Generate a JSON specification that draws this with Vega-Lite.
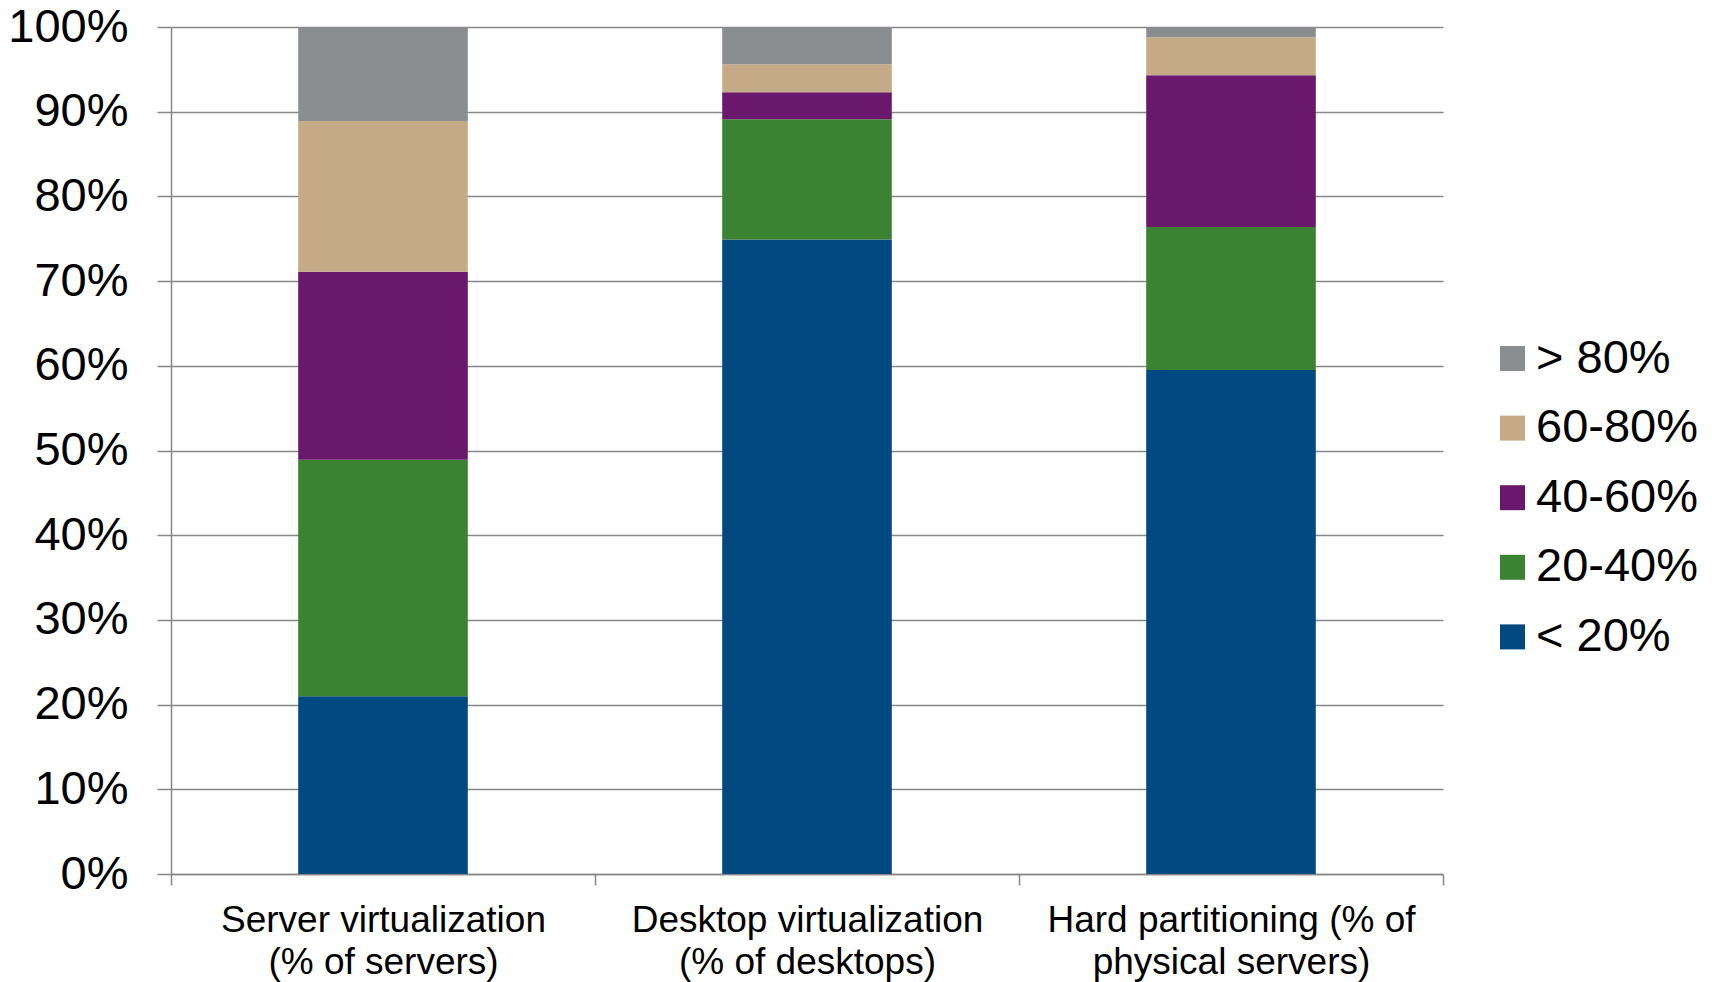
{
  "$schema": "https://vega.github.io/schema/vega-lite/v6.json",
  "width": 1272,
  "height": 847,
  "autosize": "none",
  "padding": {"left": 171, "top": 27, "right": 272, "bottom": 108},
  "background": "white",
  "config": {"view": {"stroke": null}, "font": "Liberation Sans"},
  "data": {
    "values": [
      {"category": "Server virtualization (% of servers)", "range": "< 20%", "rank": 1, "pct": 21.0},
      {"category": "Server virtualization (% of servers)", "range": "20-40%", "rank": 2, "pct": 27.9},
      {"category": "Server virtualization (% of servers)", "range": "40-60%", "rank": 3, "pct": 22.2},
      {"category": "Server virtualization (% of servers)", "range": "60-80%", "rank": 4, "pct": 17.8},
      {"category": "Server virtualization (% of servers)", "range": "> 80%", "rank": 5, "pct": 11.1},
      {"category": "Desktop virtualization (% of desktops)", "range": "< 20%", "rank": 1, "pct": 74.9},
      {"category": "Desktop virtualization (% of desktops)", "range": "20-40%", "rank": 2, "pct": 14.2},
      {"category": "Desktop virtualization (% of desktops)", "range": "40-60%", "rank": 3, "pct": 3.2},
      {"category": "Desktop virtualization (% of desktops)", "range": "60-80%", "rank": 4, "pct": 3.3},
      {"category": "Desktop virtualization (% of desktops)", "range": "> 80%", "rank": 5, "pct": 4.4},
      {"category": "Hard partitioning (% of physical servers)", "range": "< 20%", "rank": 1, "pct": 59.5},
      {"category": "Hard partitioning (% of physical servers)", "range": "20-40%", "rank": 2, "pct": 16.9},
      {"category": "Hard partitioning (% of physical servers)", "range": "40-60%", "rank": 3, "pct": 17.9},
      {"category": "Hard partitioning (% of physical servers)", "range": "60-80%", "rank": 4, "pct": 4.5},
      {"category": "Hard partitioning (% of physical servers)", "range": "> 80%", "rank": 5, "pct": 1.2}
    ]
  },
  "mark": {"type": "bar", "width": {"band": 0.4}},
  "encoding": {
    "x": {
      "field": "category",
      "type": "nominal",
      "sort": ["Server virtualization (% of servers)", "Desktop virtualization (% of desktops)", "Hard partitioning (% of physical servers)"],
      "scale": {"paddingInner": 0, "paddingOuter": 0},
      "axis": {
        "title": null,
        "labelAngle": 0,
        "tickBand": "extent",
        "ticks": true,
        "tickSize": 11,
        "tickColor": "#878787",
        "tickWidth": 1.5,
        "domainColor": "#878787",
        "domainWidth": 1.5,
        "labelFont": "Liberation Sans",
        "labelFontSize": 37,
        "labelColor": "black",
        "labelPadding": 17,
        "labelLineHeight": 42,
        "labelLimit": 600,
        "grid": false,
        "labelExpr": "datum.label == 'Server virtualization (% of servers)' ? ['Server virtualization', '(% of servers)'] : datum.label == 'Desktop virtualization (% of desktops)' ? ['Desktop virtualization', '(% of desktops)'] : datum.label == 'Hard partitioning (% of physical servers)' ? ['Hard partitioning (% of', 'physical servers)'] : ''"
      }
    },
    "y": {
      "field": "pct",
      "type": "quantitative",
      "stack": "zero",
      "scale": {"domain": [0, 100], "nice": false},
      "axis": {
        "title": null,
        "values": [0, 10, 20, 30, 40, 50, 60, 70, 80, 90, 100],
        "labelExpr": "datum.value + '%'",
        "labelFont": "Liberation Sans",
        "labelFontSize": 47,
        "labelColor": "black",
        "labelPadding": 29,
        "tickSize": 14,
        "tickColor": "#878787",
        "tickWidth": 1.5,
        "domainColor": "#878787",
        "domainWidth": 1.5,
        "grid": true,
        "gridColor": "#878787",
        "gridWidth": 1.5
      }
    },
    "color": {
      "field": "range",
      "type": "nominal",
      "scale": {
        "domain": ["> 80%", "60-80%", "40-60%", "20-40%", "< 20%"],
        "range": ["#8B8E91", "#C4AA86", "#69186B", "#3C8233", "#024881"]
      },
      "legend": {
        "title": null,
        "orient": "none",
        "legendX": 1318,
        "legendY": 308,
        "padding": 0,
        "symbolType": "square",
        "symbolSize": 625,
        "symbolStrokeWidth": 0,
        "symbolOpacity": 1,
        "labelFont": "Liberation Sans",
        "labelFontSize": 47,
        "labelColor": "black",
        "labelOffset": 0,
        "labelLimit": 400,
        "rowPadding": 21.6
      }
    },
    "order": {"field": "rank", "type": "quantitative"}
  }
}
